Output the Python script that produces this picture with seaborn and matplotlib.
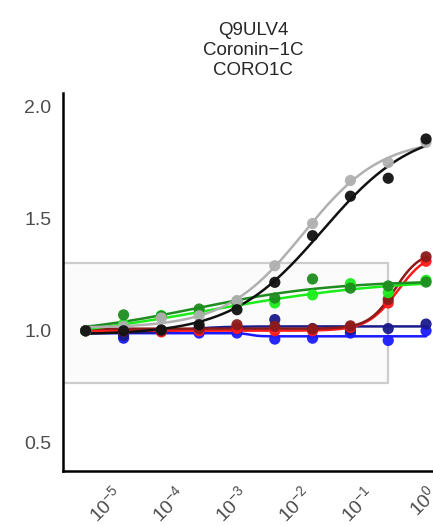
import numpy as np
import pandas as pd
import matplotlib
matplotlib.use("Agg")
import matplotlib.pyplot as plt
import seaborn as sns
from matplotlib.patches import Rectangle
from matplotlib.ticker import FixedLocator, NullLocator, LogFormatterSciNotation

# Dose series (4-fold dilution, top dose = 1)
doses = [3.81e-6, 1.53e-5, 6.10e-5, 2.44e-4, 9.77e-4, 3.91e-3, 1.56e-2, 6.25e-2, 0.25, 1.0]

# Relative abundance, one list per condition
blue = [1.00, 0.967, 1.00, 0.99, 0.99, 0.963, 0.967, 0.99, 0.957, 1.00]
navy = [1.00, 0.978, 1.00, 1.01, 1.01, 1.05, 1.01, 1.005, 1.01, 1.03]
red = [1.00, 1.00, 0.995, 1.00, 1.01, 1.00, 1.00, 1.015, 1.124, 1.31]
darkred = [1.00, 1.00, 1.00, 1.01, 1.027, 1.02, 1.008, 1.022, 1.14, 1.33]
lime = [1.00, 1.03, 1.068, 1.08, 1.12, 1.124, 1.16, 1.21, 1.17, 1.225]
green = [1.00, 1.071, 1.065, 1.097, 1.13, 1.146, 1.231, 1.19, 1.20, 1.217]
grey = [1.00, 1.02, 1.057, 1.067, 1.135, 1.29, 1.478, 1.67, 1.75, 1.84]
black = [1.00, 1.00, 1.004, 1.027, 1.094, 1.216, 1.424, 1.60, 1.68, 1.855]

series_order = ["blue", "navy", "red", "darkred", "lime", "green", "grey", "black"]
series_values = [blue, navy, red, darkred, lime, green, grey, black]
palette = {
    "blue": "#1a1aff",
    "navy": "#1a1a8b",
    "red": "#ff1a1a",
    "darkred": "#8b1a1a",
    "lime": "#1aee1a",
    "green": "#1e8c1e",
    "grey": "#b0b0b0",
    "black": "#111111",
}

title = "Q9ULV4\nCoronin\u22121C\nCORO1C"
box_low, box_high, box_right = 1 / 1.3, 1.3, 0.25


def fit_logistic(x, y):
    # crude 4-parameter log-logistic fit: grid over EC50/slope, linear solve for bottom/top
    lx = np.log10(x)
    y = np.asarray(y)
    best = None
    for lec in np.linspace(-6, 0.5, 131):
        for h in np.linspace(0.3, 6, 58):
            g = 1 / (1 + 10 ** ((lec - lx) * h))
            A = np.column_stack([np.ones_like(g), g])
            coef, *_ = np.linalg.lstsq(A, y, rcond=None)
            sse = np.sum((A @ coef - y) ** 2)
            if best is None or sse < best[0]:
                best = (sse, coef, lec, h)
    return best[1], best[2], best[3]


pts = pd.DataFrame({
    "dose": np.tile(doses, len(series_order)),
    "value": np.concatenate(series_values),
    "series": np.repeat(series_order, len(doses)),
})

xs = np.logspace(np.log10(doses[0]), np.log10(doses[-1]), 200)
curve_frames = []
for name, vals in zip(series_order, series_values):
    coef, lec, h = fit_logistic(np.array(doses), vals)
    ys = coef[0] + coef[1] / (1 + 10 ** ((lec - np.log10(xs)) * h))
    curve_frames.append(pd.DataFrame({"dose": xs, "value": ys, "series": name}))
curves = pd.concat(curve_frames, ignore_index=True)

sns.set_style("white")
plt.rcParams["font.family"] = ["Liberation Sans", "DejaVu Sans"]
plt.rcParams["mathtext.fontset"] = "custom"
plt.rcParams["mathtext.rm"] = "Liberation Sans"
plt.rcParams["mathtext.it"] = "Liberation Sans:italic"
plt.rcParams["mathtext.bf"] = "Liberation Sans:bold"

fig = plt.figure(figsize=(4.33, 5.26), dpi=100)
ax = fig.add_axes([63 / 433, 55 / 526, 380 / 433, 378 / 526])

ax.add_patch(Rectangle((1e-8, box_low), box_right - 1e-8, box_high - box_low,
                       facecolor="#fbfbfb", edgecolor="#cccccc", lw=1.6, zorder=0))

sns.lineplot(data=curves, x="dose", y="value", hue="series", hue_order=series_order,
             palette=palette, estimator=None, linewidth=1.8, legend=False, ax=ax, zorder=2)
sns.scatterplot(data=pts, x="dose", y="value", hue="series", hue_order=series_order,
                palette=palette, s=65, edgecolor="none", alpha=0.95, legend=False, ax=ax, zorder=3)

ax.set_xscale("log")
ax.set_xlim(10 ** -5.78, 10 ** 0.27)
ax.set_ylim(0.375, 2.06)
ax.xaxis.set_major_locator(FixedLocator([1e-5, 1e-4, 1e-3, 1e-2, 1e-1, 1e0]))
ax.xaxis.set_major_formatter(LogFormatterSciNotation())
ax.xaxis.set_minor_locator(NullLocator())
ax.set_yticks([0.5, 1.0, 1.5, 2.0])
ax.set_yticklabels(["0.5", "1.0", "1.5", "2.0"])
ax.set_xlabel("")
ax.set_ylabel("")

for side in ["top", "right"]:
    ax.spines[side].set_visible(False)
for side in ["left", "bottom"]:
    ax.spines[side].set_linewidth(1.8)
    ax.spines[side].set_color("black")

ax.tick_params(axis="both", length=4.5, width=1.1, color="#333333",
               labelcolor="#4d4d4d", labelsize=14, pad=4)
for lab in ax.get_xticklabels():
    lab.set_rotation(45)
    lab.set_ha("right")
    lab.set_va("top")
    lab.set_rotation_mode("anchor")

ax.set_title(title, fontsize=13.5, linespacing=1.22, pad=13)

fig.savefig("out.png", dpi=100)
